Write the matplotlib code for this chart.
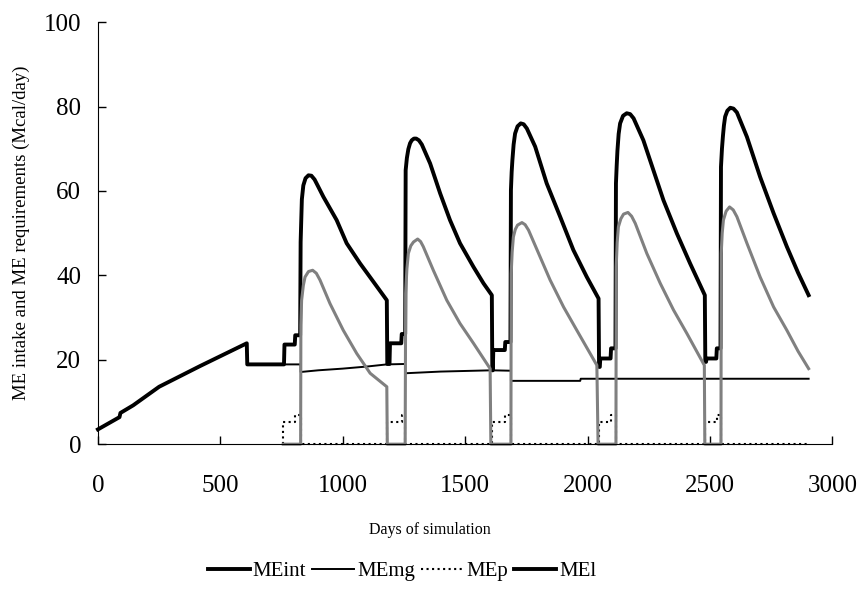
import matplotlib.pyplot as plt
from matplotlib.lines import Line2D

plt.rcParams['font.family'] = ['Liberation Serif', 'DejaVu Serif']

# MEint: intake (thick black)
meint_days = [0, 88, 92, 144, 250, 417, 608, 610, 760, 762, 804, 806, 826, 828, 833, 839, 848, 860,
              872, 885, 900, 921, 975, 1016, 1071, 1125, 1180, 1182, 1191, 1193, 1239, 1241, 1255,
              1257, 1262, 1268, 1275, 1282, 1291, 1300, 1311, 1323, 1357, 1398, 1438, 1479, 1534,
              1575, 1609, 1611, 1613, 1615, 1662, 1664, 1685, 1687, 1690, 1693, 1698, 1704, 1714,
              1727, 1739, 1752, 1786, 1833, 1888, 1942, 1997, 2045, 2047, 2050, 2052, 2094, 2096,
              2114, 2116, 2119, 2122, 2127, 2133, 2145, 2160, 2174, 2188, 2228, 2269, 2310, 2365,
              2419, 2479, 2481, 2484, 2486, 2526, 2528, 2543, 2545, 2549, 2553, 2557, 2562, 2571,
              2583, 2596, 2610, 2651, 2705, 2760, 2814, 2860, 2903]
meint_vals = [3.5, 6.4, 7.4, 9.2, 13.6, 18.5, 23.9, 18.9, 18.9, 23.6, 23.6, 25.8, 25.8, 47.9, 58.0,
              61.3, 63.0, 63.7, 63.6, 62.7, 61.0, 58.6, 53.1, 47.6, 42.8, 38.5, 34.1, 19.0, 19.0,
              23.9, 23.9, 26.1, 26.1, 64.9, 67.8, 69.9, 71.3, 72.0, 72.4, 72.4, 72.0, 71.0, 66.5,
              59.4, 53.1, 47.6, 42.0, 38.1, 35.3, 17.5, 17.5, 22.3, 22.3, 24.2, 24.2, 60.2, 64.5,
              67.3, 71.0, 73.6, 75.3, 76.0, 75.8, 74.8, 70.5, 61.8, 53.9, 46.0, 39.6, 34.5, 18.3,
              18.3, 20.3, 20.3, 22.7, 22.7, 61.8, 66.0, 69.5, 73.5, 76.0, 77.8, 78.4, 78.2, 77.2,
              72.0, 64.9, 57.8, 49.9, 42.8, 35.3, 19.5, 19.5, 20.3, 20.3, 22.7, 22.7, 65.7, 70.0,
              73.0, 75.5, 77.6, 79.0, 79.7, 79.5, 78.6, 72.8, 63.3, 54.7, 46.8, 40.6, 35.3]

# MEmg: maintenance + growth (thin black)
memg_days = [0, 88, 92, 144, 250, 417, 608, 610, 828, 828, 900, 1000, 1100, 1180, 1255, 1255,
             1400, 1609, 1687, 1687, 1970, 1972, 2903]
memg_vals = [3.5, 6.4, 7.4, 9.2, 13.6, 18.5, 23.9, 18.9, 18.9, 17.1, 17.5, 17.9, 18.4, 18.9, 19.0,
             16.8, 17.2, 17.5, 17.4, 15.0, 15.0, 15.5, 15.5]

# MEp: pregnancy (dotted)
mep_days = [757, 757, 805, 805, 828, 828, 1182, 1182, 1241, 1241, 1255, 1255, 1609, 1609, 1664,
            1664, 1687, 1687, 2045, 2045, 2096, 2096, 2116, 2116, 2479, 2479, 2528, 2528, 2545,
            2545, 2903]
mep_vals = [0, 5.3, 5.3, 6.9, 6.9, 0, 0, 5.3, 5.3, 6.9, 6.9, 0, 0, 5.3, 5.3, 6.9, 6.9, 0, 0, 5.3,
            5.3, 6.9, 6.9, 0, 0, 5.3, 5.3, 6.9, 6.9, 0, 0]

# MEl: lactation (grey)
mel_days = [757, 828, 829, 832, 839, 846, 860, 877, 892, 907, 948, 1002, 1057, 1112, 1180, 1182,
            1255, 1257, 1262, 1268, 1278, 1289, 1306, 1318, 1329, 1370, 1425, 1479, 1534, 1602,
            1605, 1687, 1688, 1692, 1697, 1705, 1714, 1732, 1745, 1759, 1800, 1847, 1902, 1956,
            2038, 2043, 2116, 2117, 2121, 2126, 2136, 2147, 2165, 2180, 2195, 2242, 2297, 2351,
            2406, 2477, 2479, 2545, 2546, 2550, 2555, 2566, 2580, 2595, 2610, 2651, 2705, 2760,
            2814, 2860, 2903]
mel_vals = [0, 0, 28.2, 34.1, 37.6, 39.6, 40.9, 41.2, 40.5, 38.9, 33.3, 27.0, 21.5, 16.8, 13.6, 0,
            0, 35.7, 41.5, 45.2, 47.0, 47.9, 48.6, 48.0, 46.8, 41.2, 34.1, 28.6, 23.9, 17.9, 0, 0,
            40.4, 45.5, 49.1, 50.9, 51.9, 52.5, 52.0, 50.7, 45.2, 38.9, 32.5, 27.0, 18.7, 0, 0,
            42.0, 47.8, 51.5, 53.4, 54.5, 54.9, 54.0, 52.3, 45.2, 38.1, 31.8, 26.2, 18.7, 0, 0,
            45.2, 50.0, 53.1, 55.2, 56.2, 55.5, 53.9, 47.6, 39.6, 32.5, 27.0, 22.0, 17.9]

fig = plt.figure(figsize=(8.59, 5.97), dpi=100)
ax = fig.add_axes([0.114, 0.256, 0.855, 0.707])

ax.plot(meint_days, meint_vals, color='black', lw=2.8, clip_on=False)
ax.plot(memg_days, memg_vals, color='black', lw=1.4, clip_on=False)
ax.plot(mep_days, mep_vals, color='black', lw=1.5, ls=':', clip_on=False)
ax.plot(mel_days, mel_vals, color='#808080', lw=2.2, clip_on=False)

ax.set_xlim(0, 3000)
ax.set_ylim(0, 100)
ax.set_xticks([0, 500, 1000, 1500, 2000, 2500, 3000])
ax.set_yticks([0, 20, 40, 60, 80, 100])
ax.tick_params(direction='in', length=6, width=1, labelsize=18)
ax.tick_params(axis='x', pad=22)
ax.tick_params(axis='y', pad=12)
ax.spines['top'].set_visible(False)
ax.spines['right'].set_visible(False)

ax.set_xlabel('Days of simulation', fontsize=11.5)
ax.xaxis.set_label_coords(0.452, -0.185)
ax.set_ylabel('ME intake and ME requirements (Mcal/day)', fontsize=13.5, labelpad=10)

handles = [Line2D([], [], color='black', lw=2.8),
           Line2D([], [], color='black', lw=1.4),
           Line2D([], [], color='black', lw=1.5, ls=':'),
           Line2D([], [], color='black', lw=2.8)]
fig.legend(handles, ['MEint', 'MEmg', 'MEp', 'MEl'], loc='center', bbox_to_anchor=(0.468, 0.043),
           ncol=4, frameon=False, fontsize=15, handlelength=2.0, handletextpad=0.15,
           columnspacing=0.3)

fig.savefig('out.png', dpi=100)
